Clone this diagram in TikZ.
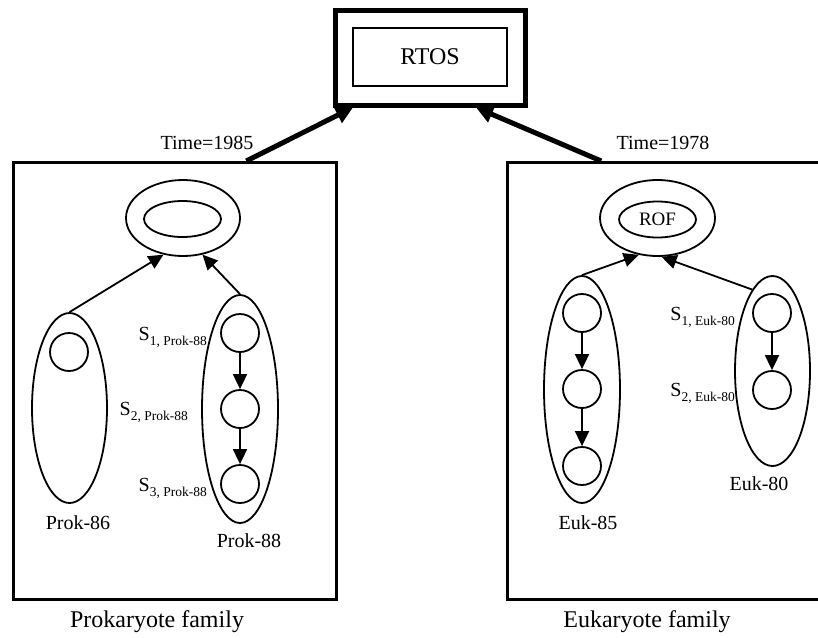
\documentclass[tikz,border=0pt]{standalone}
\usepackage{fontspec}
\setmainfont{Liberation Serif}
\usetikzlibrary{arrows.meta,shapes.geometric}
\newcommand\subl[2]{#1\raisebox{-0.25em}{\fontsize{13.5}{13.5}\selectfont #2}}
\begin{document}
\begin{tikzpicture}[x=1pt,y=-1pt,
  famframe/.style={draw, line width=2.5pt, inner sep=0, anchor=north west},
  ell/.style={draw, ellipse, line width=1.8pt, inner sep=0},
  sc/.style={draw, circle, line width=1.8pt, minimum size=38pt, inner sep=0},
  lab/.style={font=\fontsize{20}{20}\selectfont, inner sep=0},
  slab/.style={font=\fontsize{20}{20}\selectfont, inner sep=0, anchor=east},
  famlab/.style={font=\fontsize{24}{24}\selectfont, inner sep=0},
  arr/.style={line width=1.8pt, -{Triangle[length=15pt,width=14pt]}},
  bigarr/.style={line width=5pt, -{Triangle[length=17pt,width=17pt]}}
]
\clip (0,0) rectangle (818,637);
\fill[white] (0,0) rectangle (818,637);

% RTOS
\node[draw, line width=5pt, minimum width=190pt, minimum height=95pt, inner sep=0] (rtosout) at (430,57.5) {};
\node[draw, line width=1.8pt, minimum width=154pt, minimum height=58pt, inner sep=0, font=\fontsize{24}{24}\selectfont] (rtos) at (430,57) {RTOS};

% family frames
\node[famframe, minimum width=323pt, minimum height=437pt] (lbox) at (12,161) {};
\node[famframe, minimum width=330pt, minimum height=437pt] (rbox) at (506,161) {};
\coordinate (lstart) at ([xshift=71.5pt]lbox.north);
\coordinate (rstart) at ([xshift=-71pt]rbox.north);
\coordinate (ltip) at ([xshift=-77pt]rtosout.south);
\coordinate (rtip) at ([xshift=46pt]rtosout.south);
\draw[bigarr] (lstart) -- (ltip);
\draw[bigarr] (rstart) -- (rtip);
\node[lab] (t1) at (207,143) {Time=1985};
\node[lab] (t2) at (663,143) {Time=1978};

% Prokaryote family
\node[ell, minimum width=114pt, minimum height=76pt] (p0) at (183,218) {};
\node[ell, minimum width=77pt, minimum height=36pt] (p0i) at (182.5,219) {};
\node[ell, minimum width=75pt, minimum height=190pt] (p86) at (69.5,408) {};
\node[sc] (p86a) at (69,352) {};
\node[ell, minimum width=76pt, minimum height=228pt] (p88) at (240,409) {};
\node[sc] (p88a) at (240,333) {};
\node[sc] (p88b) at (240,409) {};
\node[sc] (p88c) at (240,484) {};
\draw[arr] (p88a) -- (p88b);
\draw[arr] (p88b) -- (p88c);
\draw[arr] (p86.north) -- (p0.242);
\draw[arr] (p88.north) -- (p0.298);
\node[slab] (s1p) at (207,337) {\subl{S}{1, Prok-88}};
\node[slab] (s2p) at (188,412) {\subl{S}{2, Prok-88}};
\node[slab] (s3p) at (207,488) {\subl{S}{3, Prok-88}};
\node[lab] (l86) at (78,523) {Prok-86};
\node[lab] (l88) at (249,541) {Prok-88};
\node[famlab] (pfam) at (157,622) {Prokaryote family};

% Eukaryote family
\node[ell, minimum width=115pt, minimum height=76pt] (e0) at (657.5,218) {};
\node[ell, minimum width=77pt, minimum height=36pt, font=\fontsize{19}{19}\selectfont] (e0i) at (657.5,219.5) {ROF};
\node[ell, minimum width=76pt, minimum height=227pt] (e85) at (582,389.5) {};
\node[sc] (e85a) at (582,313) {};
\node[sc] (e85b) at (582,389) {};
\node[sc] (e85c) at (582,466) {};
\node[ell, minimum width=75pt, minimum height=190pt] (e80) at (772.5,371) {};
\node[sc] (e80a) at (772,313) {};
\node[sc] (e80b) at (772,390) {};
\draw[arr] (e85a) -- (e85b);
\draw[arr] (e85b) -- (e85c);
\draw[arr] (e80a) -- (e80b);
\draw[arr] (e85.north) -- (e0.243);
\draw[arr] (e80.104) -- (e0.276);
\node[slab] (s1e) at (735,317) {\subl{S}{1, Euk-80}};
\node[slab] (s2e) at (735,393) {\subl{S}{2, Euk-80}};
\node[lab] (l85) at (588,523) {Euk-85};
\node[lab] (l80) at (759,484) {Euk-80};
\node[famlab] (efam) at (647,622) {Eukaryote family};
\end{tikzpicture}
\end{document}
